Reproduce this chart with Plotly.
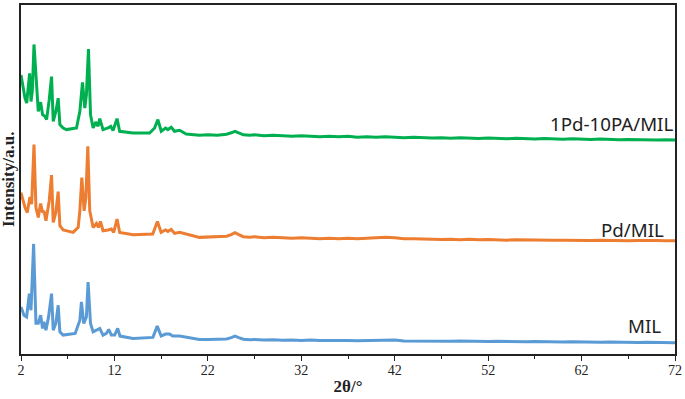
import plotly.graph_objects as go

# ---- data (2θ in degrees, intensity in a.u.) ----
BASE_X = [22, 23, 24, 24.5, 24.9, 25.3, 25.8, 26.5, 27] + list(range(28, 73))

MIL_X = [2.0, 2.32, 2.6, 2.89, 3.07, 3.35, 3.6, 3.85, 4.1, 4.31, 4.45, 4.67, 4.95, 5.27,
         5.45, 5.73, 5.98, 6.16, 6.51, 7.8, 8.3, 8.47, 8.72, 9.0, 9.18, 9.44, 9.72, 10.07,
         10.43, 10.78, 11.14, 11.39, 11.67, 12.03, 12.35, 12.6, 14.0, 16.12, 16.58, 17.0,
         17.47, 17.9, 18.25, 18.97, 21.1]
MIL_Y = [47.3, 39, 37.3, 60.7, 44, 110.7, 31, 31, 39, 25.7, 32.3, 24, 37.3, 60.7,
         24, 30.7, 49, 22.3, 19, 20.7, 34, 52.3, 30.7, 37.3, 72.3, 30.7, 22.3, 24,
         25.7, 19, 20.7, 24.7, 19, 19, 25.7, 18, 15.7, 16.7, 28, 18,
         20, 20, 18, 18, 14.7]
MIL_BASE = [14.5, 14.8, 15.2, 16.5, 18, 16.5, 14.8, 14.3, 14.6,
            14, 14.4, 13.8, 14.2, 13.7, 14, 13.5, 13.8, 13.4, 13.7, 13.3, 13.6, 14, 14.3, 14,
            13.2, 13, 13.3, 12.8, 13.1, 12.7, 13, 12.6, 12.9, 12.5, 12.8, 12.4, 12.6, 12.2,
            12.5, 12.1, 12.4, 12, 12.3, 11.9, 12.1, 11.8, 12, 11.7, 11.9, 11.5, 11.7, 11.4,
            11.5, 11.3]

PD_X = [2.0, 2.43, 2.67, 2.96, 3.14, 3.39, 3.6, 3.85, 4.1, 4.31, 4.45, 4.67, 5.02, 5.27,
        5.45, 5.73, 5.98, 6.16, 6.51, 7.58, 8.12, 8.3, 8.51, 8.76, 8.94, 9.15, 9.36, 9.72,
        10.07, 10.29, 10.5, 10.78, 11.32, 11.67, 11.92, 12.28, 12.56, 14.0, 16.1, 16.6,
        17.0, 17.47, 17.72, 18.08, 18.43, 18.97, 21.1]
PD_Y = [60.3, 45.3, 40.3, 56, 48.7, 108.7, 45.3, 35.3, 49.3, 40.3, 42, 32, 52, 78,
        30.3, 40.3, 61.3, 27, 22.7, 20.3, 25.3, 42, 75.3, 42, 55.3, 107, 42, 25.3,
        29.3, 25.3, 31.3, 22, 22.7, 23.7, 20.3, 33.7, 20.3, 18, 18.7, 31.3,
        20.3, 22.7, 21.3, 23.3, 19.3, 20.3, 15.3]
PD_BASE = [15.5, 16, 16.5, 18, 20, 18, 16, 15.5, 16,
           15, 15.5, 15, 14.5, 15, 14.5, 14, 14.5, 14, 14.5, 14, 14.5, 15, 15.5, 15,
           14, 13.8, 13.5, 13.8, 13.2, 13.5, 13, 13.3, 12.8, 13.2, 12.8, 12.5, 13, 12.7,
           12.4, 12.8, 12.3, 12.5, 12.2, 12.6, 12.2, 12.4, 12, 12.3, 11.9, 12.2, 11.8, 12.1,
           11.9, 12]

PA_X = [2.0, 2.43, 2.61, 2.92, 3.07, 3.21, 3.39, 3.67, 3.85, 4.1, 4.31, 4.56, 4.74, 5.02,
        5.27, 5.45, 5.73, 5.98, 6.16, 6.51, 6.87, 7.94, 8.3, 8.58, 8.83, 9.0, 9.22, 9.44,
        9.72, 10.0, 10.25, 10.43, 10.78, 11.32, 11.6, 11.85, 12.28, 12.56, 13.98, 15.77,
        16.3, 16.65, 17.01, 17.47, 17.72, 18.08, 18.43, 18.97, 19.68, 21.1]
PA_Y = [76.7, 53.3, 48.3, 78.3, 50, 60, 107.3, 70, 40, 49.3, 36.7, 35, 31.7, 51.7,
        75, 30, 40, 53.3, 26.7, 23.3, 21.7, 23.3, 40, 69.3, 43.3, 56.7, 102.7, 36.7,
        23.3, 29.3, 25, 32.7, 21.7, 23.3, 25, 20.7, 32.7, 20, 18.3, 18.3,
        23.3, 31.7, 20, 23.3, 21.7, 24, 20, 21, 17.3, 16]
PA_BASE = [16.5, 16, 17, 18.5, 20, 18.5, 16.5, 16, 16.5,
           15.5, 16, 15.5, 15, 15.5, 15, 14.5, 15, 14.5, 15, 14, 14.5, 14, 14.5, 14.2,
           13.5, 14, 13.5, 13.2, 13.5, 13, 13.5, 13, 12.8, 13.2, 12.7, 12.5, 13, 12.5,
           12.2, 12.7, 12.2, 12, 12.4, 12, 11.8, 12.2, 11.7, 11.5, 11.8, 11.4, 11.6, 11.3,
           11.4, 11.2]

NAMES = ["MIL", "Pd/MIL", "1Pd-10PA/MIL"]
OFFSETS = [0, 102, 204]
COLORS = ["#5B9BD5", "#ED7D31", "#00B050"]
X_TICKS = [2, 12, 22, 32, 42, 52, 62, 72]

series = [
    (MIL_X + BASE_X, MIL_Y + MIL_BASE),
    (PD_X + BASE_X, PD_Y + PD_BASE),
    (PA_X + BASE_X, PA_Y + PA_BASE),
]

fig = go.Figure()
for (xs, ys), name, off, col in zip(series, NAMES, OFFSETS, COLORS):
    fig.add_trace(go.Scatter(x=xs, y=[v + off for v in ys], mode="lines", name=name,
                             line=dict(color=col, width=3), showlegend=False,
                             hoverinfo="skip"))

label_pos = [(70.7, 29), (71.0, 125), (72.0, 232)]
for name, (lx, ly), in zip(NAMES, label_pos):
    fig.add_annotation(x=lx, y=ly, text=name, showarrow=False, xanchor="right",
                       yanchor="middle", font=dict(family="Noto Sans", size=18.7, color="#222"))

fig.add_annotation(x=0, xref="paper", y=0.5, yref="paper", text="<b>Intensity/a.u.</b>",
                   textangle=-90, showarrow=False, xanchor="right", yanchor="middle",
                   xshift=-1, font=dict(family="Liberation Serif", size=17, color="#222"))

fig.update_layout(
    width=685, height=399, margin=dict(l=21, r=7, t=3, b=45),
    plot_bgcolor="white", paper_bgcolor="white",
    xaxis=dict(range=[2, 72], tickvals=X_TICKS, ticktext=[str(t) for t in X_TICKS],
               ticks="outside", ticklen=5, tickwidth=1, tickcolor="#222",
               ticklabelstandoff=-3,
               showline=True, linecolor="#222", linewidth=1.5, mirror=True,
               showgrid=False, zeroline=False,
               minor=dict(tickvals=[7, 17, 27, 37, 47, 57, 67], ticks="outside", ticklen=3,
                          tickcolor="#222", showgrid=False),
               tickfont=dict(family="Liberation Serif", size=14, color="#222"),
               title=dict(text="<b>2θ/°</b>", standoff=4,
                          font=dict(family="Liberation Serif", size=17, color="#222"))),
    yaxis=dict(range=[0, 351], showticklabels=False, ticks="", showgrid=False,
               zeroline=False, showline=True, linecolor="#222", linewidth=1.5, mirror=True),
)

fig.write_html("out.html", config={"displayModeBar": False},
               post_script="document.body.style.margin='0px';")
